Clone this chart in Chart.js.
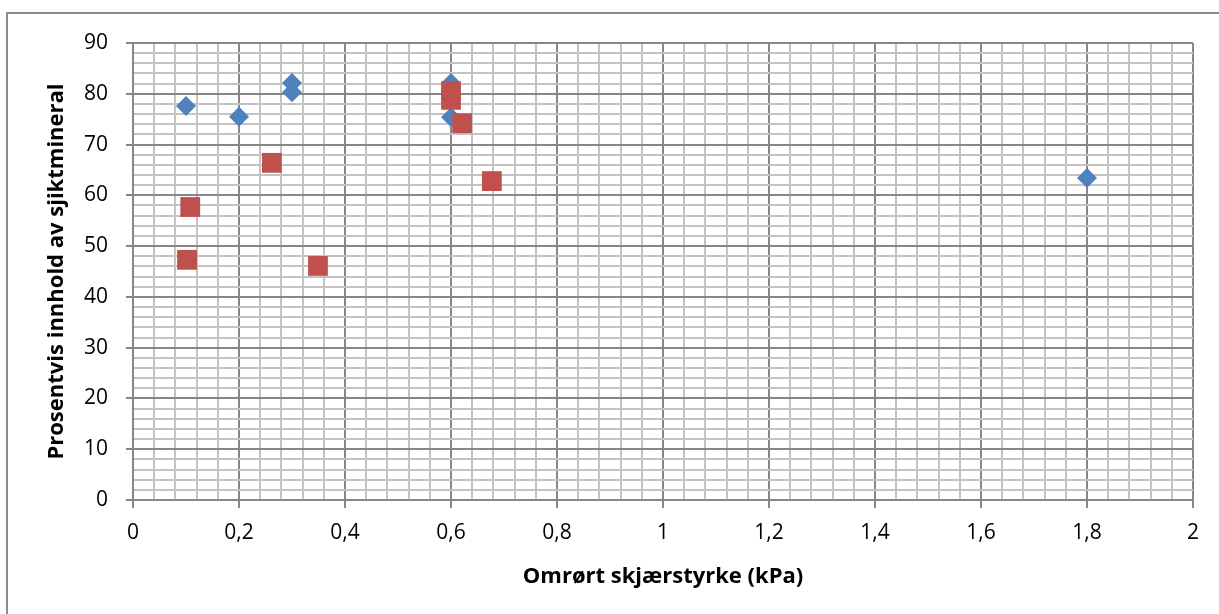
<!DOCTYPE html>
<html>
<head>
<meta charset="utf-8">
<script src="https://cdn.jsdelivr.net/npm/chart.js@4/dist/chart.umd.min.js"></script>
<style>
  html, body { margin: 0; padding: 0; background: #ffffff; }
  #wrap { position: relative; width: 1219px; height: 614px; overflow: hidden; background: #ffffff; }
  #frame { position: absolute; left: 6px; top: 12px; width: 1400px; height: 800px;
           border-left: 2px solid #8c8c8c; border-top: 2px solid #8c8c8c; }
  canvas { position: absolute; left: 0; top: 0; }
</style>
</head>
<body>
<div id="wrap">
  <div id="frame"></div>
  <canvas id="c" width="1219" height="614"></canvas>
</div>
<script>
// ---- data ----
const blueX = [0.1, 0.2, 0.3, 0.3, 0.6, 0.6, 1.8];
const blueY = [77.6, 75.5, 82.1, 80.3, 82.1, 75.4, 63.4];
const redX  = [0.102, 0.108, 0.262, 0.349, 0.6, 0.6, 0.621, 0.677];
const redY  = [47.3, 57.7, 66.4, 46.1, 80.5, 78.8, 74.2, 62.8];

const xMajorTicks = [0, 0.2, 0.4, 0.6, 0.8, 1, 1.2, 1.4, 1.6, 1.8, 2];
const xTickLabels = ['0', '0,2', '0,4', '0,6', '0,8', '1', '1,2', '1,4', '1,6', '1,8', '2'];
const yMajorTicks = [0, 10, 20, 30, 40, 50, 60, 70, 80, 90];
const yTickLabels = ['0', '10', '20', '30', '40', '50', '60', '70', '80', '90'];
const minorDivisions = 5;

const xTitle = 'Omrørt skjærstyrke (kPa)';
const yTitle = 'Prosentvis innhold av sjiktmineral';

// ---- helpers ----
function buildTicks(majors) {
  const out = [];
  for (let i = 0; i < majors.length; i++) {
    out.push({ value: majors[i], major: true, label: i });
    if (i < majors.length - 1) {
      const step = (majors[i + 1] - majors[i]) / minorDivisions;
      for (let k = 1; k < minorDivisions; k++) {
        out.push({ value: majors[i] + step * k, major: false });
      }
    }
  }
  return out;
}
const MAJOR_COL = '#878787';
const MINOR_COL = '#c3c3c3';
const FONT = "'Open Sans', sans-serif";

const toPts = (xs, ys) => xs.map((x, i) => ({ x: x, y: ys[i] }));

new Chart(document.getElementById('c'), {
  type: 'scatter',
  data: {
    datasets: [
      {
        label: 'Serie 1',
        data: toPts(blueX, blueY),
        pointStyle: 'rectRot',
        pointRadius: 10,
        pointHoverRadius: 10,
        backgroundColor: '#4F81BD',
        borderColor: '#4F81BD',
        borderWidth: 0,
        order: 2
      },
      {
        label: 'Serie 2',
        data: toPts(redX, redY),
        pointStyle: 'rect',
        pointRadius: 14,
        pointHoverRadius: 14,
        backgroundColor: '#C0504D',
        borderColor: '#C0504D',
        borderWidth: 0,
        order: 1
      }
    ]
  },
  options: {
    responsive: false,
    animation: false,
    events: [],
    layout: { padding: { left: 0, top: 43, right: 26, bottom: 0 } },
    plugins: { legend: { display: false }, tooltip: { enabled: false }, title: { display: false } },
    scales: {
      x: {
        type: 'linear',
        min: 0, max: 2,
        afterBuildTicks: s => { s.ticks = buildTicks(xMajorTicks); },
        afterFit: s => { s.height = 114; },
        ticks: {
          autoSkip: false,
          maxRotation: 0,
          padding: 12,
          color: '#000000',
          font: { family: FONT, size: 21 },
          callback: function (v, i, ticks) {
            const t = ticks[i];
            return t.major ? xTickLabels[t.label] : '';
          }
        },
        grid: {
          color: c => (c.tick && c.tick.major) ? MAJOR_COL : MINOR_COL,
          tickColor: c => (c.tick && c.tick.major) ? MAJOR_COL : 'rgba(0,0,0,0)',
          lineWidth: 2,
          tickLength: 8
        },
        border: { color: MAJOR_COL, width: 2 },
        title: {
          display: true,
          text: xTitle,
          color: '#000000',
          font: { family: FONT, size: 22, weight: 'bold' },
          padding: { top: 0, bottom: 24 }
        }
      },
      y: {
        type: 'linear',
        min: 0, max: 90,
        afterBuildTicks: s => { s.ticks = buildTicks(yMajorTicks); },
        afterFit: s => { s.width = 133; },
        ticks: {
          autoSkip: false,
          padding: 18,
          color: '#000000',
          font: { family: FONT, size: 21 },
          callback: function (v, i, ticks) {
            const t = ticks[i];
            return t.major ? yTickLabels[t.label] : '';
          }
        },
        grid: {
          color: c => (c.tick && c.tick.major) ? MAJOR_COL : MINOR_COL,
          tickColor: c => (c.tick && c.tick.major) ? MAJOR_COL : 'rgba(0,0,0,0)',
          lineWidth: 2,
          tickLength: 7
        },
        border: { color: MAJOR_COL, width: 2 },
        title: {
          display: true,
          text: yTitle,
          color: '#000000',
          font: { family: FONT, size: 22, weight: 'bold' },
          padding: { top: 44, bottom: 0 }
        }
      }
    }
  }
});
</script>
</body>
</html>
